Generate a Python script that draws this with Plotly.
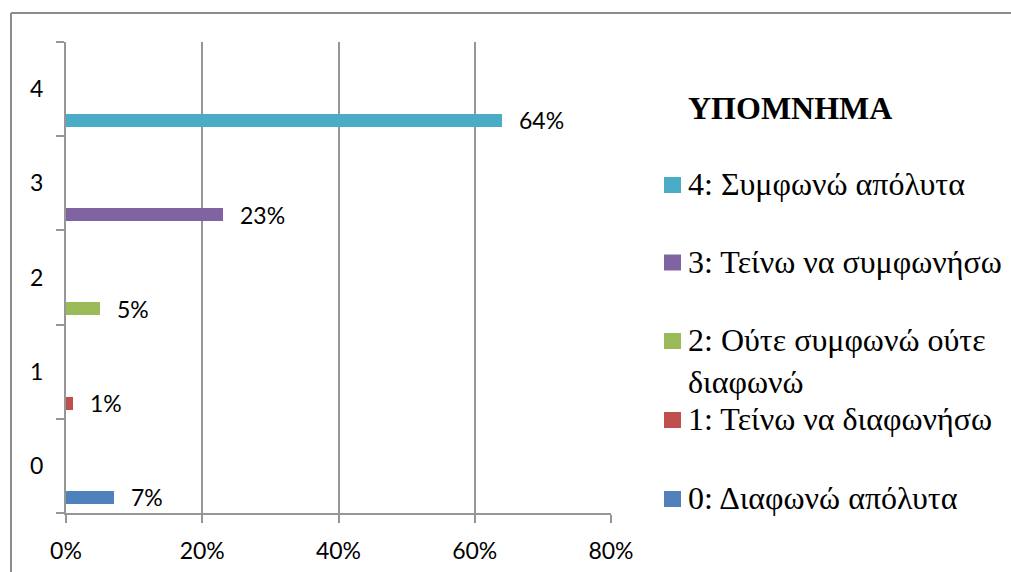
import plotly.graph_objects as go

# chart data
categories = ["0", "1", "2", "3", "4"]
values = [7, 1, 5, 23, 64]
colors = ["#4F81BD", "#C0504D", "#9BBB59", "#8064A2", "#4BACC6"]
legend_title = "ΥΠΟΜΝΗΜΑ"
legend_labels = [
    "0: Διαφωνώ απόλυτα",
    "1: Τείνω να διαφωνήσω",
    "2: Ούτε συμφωνώ ούτε<br>διαφωνώ",
    "3: Τείνω να συμφωνήσω",
    "4: Συμφωνώ απόλυτα",
]
x_ticks = [0, 20, 40, 60, 80]

W, H = 1011, 572
L, R, T, B = 66, 611, 42, 513  # plot area in pixels
SERIF = "Times New Roman, Liberation Serif, serif"
SANS = "Lato, Open Sans, sans-serif"


def px_x(px):
    return (px - L) / (R - L)


def px_y(py):
    return (B - py) / (B - T)


fig = go.Figure()
fig.add_trace(go.Bar(
    x=values, y=categories, orientation="h",
    marker=dict(color=colors, line=dict(width=0)),
    width=0.138, offset=-0.402,
    showlegend=False, hoverinfo="skip",
))

# data labels to the right of each bar
for c, v in zip(categories, values):
    fig.add_annotation(
        x=v, y=categories.index(c) - 0.333, xref="x", yref="y",
        text=f"{v}%", showarrow=False, xanchor="left", yanchor="middle",
        xshift=15, font=dict(family=SANS, size=23, color="#000000"),
    )

# hand-built legend (Excel-like spacing)
fig.add_annotation(
    x=px_x(686), y=px_y(108), xref="paper", yref="paper",
    text=f"<b>{legend_title}</b>", showarrow=False,
    xanchor="left", yanchor="middle",
    font=dict(family=SERIF, size=32, color="#000000"),
)
item_y = [499, 420, 341, 262.5, 185]
for lab, col, cy in zip(legend_labels, colors, item_y):
    fig.add_shape(
        type="rect", xref="paper", yref="paper",
        xsizemode="pixel", ysizemode="pixel",
        xanchor=px_x(672.5), yanchor=px_y(cy),
        x0=-8.5, x1=8.5, y0=-8, y1=8,
        fillcolor=col, line=dict(width=0),
    )
    fig.add_annotation(
        x=px_x(686), y=px_y(cy - 21), xref="paper", yref="paper",
        text=lab, showarrow=False, xanchor="left", yanchor="top",
        align="left",
        font=dict(family=SERIF, size=32, color="#000000"),
    )

# outer frame (only top and left edges are visible)
fig.add_shape(type="line", xref="paper", yref="paper",
              x0=px_x(11), x1=px_x(1011), y0=px_y(13), y1=px_y(13),
              line=dict(color="#8C8C8C", width=2))
fig.add_shape(type="line", xref="paper", yref="paper",
              x0=px_x(11), x1=px_x(11), y0=px_y(13), y1=px_y(572),
              line=dict(color="#8C8C8C", width=2))

fig.update_layout(
    width=W, height=H,
    margin=dict(l=L, r=W - R, t=T, b=H - B),
    paper_bgcolor="white", plot_bgcolor="white",
    bargap=0,
    xaxis=dict(
        range=[0, 80], tickvals=x_ticks, ticktext=[f"{t}%" for t in x_ticks],
        showgrid=True, gridcolor="#969696", gridwidth=2, zeroline=False,
        showline=True, linecolor="#969696", linewidth=2,
        ticks="outside", ticklen=8, tickcolor="#969696", tickwidth=2,
        ticklabelstandoff=8, automargin=False,
        tickfont=dict(family=SANS, size=23, color="#000000"),
    ),
    yaxis=dict(
        type="category", categoryorder="array", categoryarray=categories,
        range=[-0.5, 4.5], tickson="boundaries",
        showgrid=False, zeroline=False,
        showline=True, linecolor="#969696", linewidth=2,
        ticks="outside", ticklen=8, tickcolor="#969696", tickwidth=2,
        ticklabelstandoff=16, automargin=False,
        tickfont=dict(family=SANS, size=23, color="#000000"),
    ),
)

fig.write_html("out.html", config={"displayModeBar": False},
               post_script="document.body.style.margin='0';")
